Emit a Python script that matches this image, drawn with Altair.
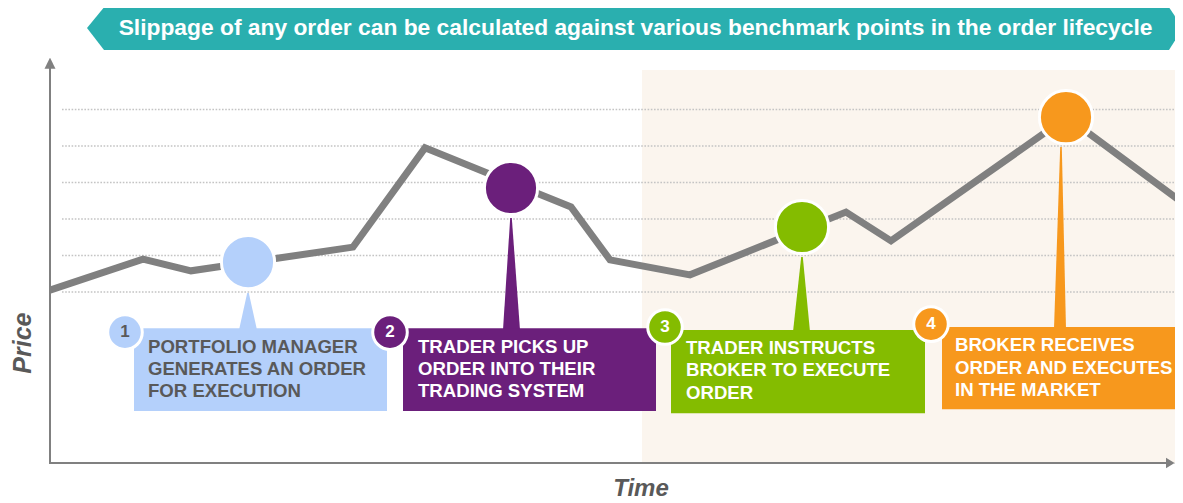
import altair as alt
import pandas as pd

# ---------------- data (x = time units, y = price units) ----------------
line_t = [0.0, 9.3, 14.1, 30.3, 37.5, 52.1, 56.0, 64.0, 79.6, 84.1, 101.7, 113.3]
line_p = [5.05, 5.90, 5.58, 6.23, 8.95, 7.33, 5.88, 5.47, 7.19, 6.40, 9.79, 7.44]

steps = ["1", "2", "3", "4"]
step_t = [19.8, 46.1, 75.2, 101.6]
step_p = [5.82, 7.85, 6.78, 9.79]
step_colors = ["#B4D0FB", "#6B1F7B", "#84BC00", "#F7981D"]
step_text_colors = ["#595959", "#FFFFFF", "#FFFFFF", "#FFFFFF"]
step_lines = [
    ["PORTFOLIO MANAGER", "GENERATES AN ORDER", "FOR EXECUTION"],
    ["TRADER PICKS UP", "ORDER INTO THEIR", "TRADING SYSTEM"],
    ["TRADER INSTRUCTS", "BROKER TO EXECUTE", "ORDER"],
    ["BROKER RECEIVES", "ORDER AND EXECUTES", "IN THE MARKET"],
]
grid_levels = [5, 6, 7, 8, 9, 10]
title_text = "Slippage of any order can be calculated against various benchmark points in the order lifecycle"
x_title = "Time"
y_title = "Price"

# ---------------- annotation layout (same units) ----------------
box_t1 = [8.4, 35.3, 62.1, 89.2]
box_t2 = [33.7, 60.6, 87.5, 114.5]
box_ptop = [4.01, 4.01, 3.96, 4.04]
box_pbot = [1.74, 1.74, 1.68, 1.79]
text_t = [9.8, 36.8, 63.6, 90.5]
text_p = [[3.49, 2.89, 2.29], [3.49, 2.89, 2.29], [3.47, 2.86, 2.23], [3.55, 2.92, 2.32]]
badge_t = [7.5, 34.0, 61.5, 88.1]
badge_p = [3.90, 3.90, 4.04, 4.12]
ptr_apex_t = [19.8, 46.1, 75.2, 101.1]
ptr_apex_p = [4.97, 7.03, 5.96, 8.97]
ptr_base_t = [19.8, 46.15, 75.15, 101.0]
ptr_half = [0.9, 0.85, 0.85, 0.6]
phase_t = [59.2, 114.5]
phase_p = [0.315, 11.08]
axis_p0 = 0.315
axis_t0 = 0.0

FONT = "Liberation Sans"
GRAY = "#808080"
TXT = "#595959"

W, H = 1167, 495
xs = alt.Scale(domain=[-4.2, 112.5], nice=False, zero=False)
ys = alt.Scale(domain=[-0.781, 12.781], nice=False, zero=False)


def X(f):
    return alt.X(f, type="quantitative", scale=xs, axis=None, stack=None)


def Y(f):
    return alt.Y(f, type="quantitative", scale=ys, axis=None, stack=None)


# phase shading
phase_df = pd.DataFrame({"t1": [phase_t[0]], "t2": [phase_t[1]], "p1": [phase_p[0]], "p2": [phase_p[1]]})
phase = alt.Chart(phase_df).mark_rect(color="#FBF5EE").encode(
    x=X("t1"), x2="t2", y=Y("p1"), y2="p2")

# gridlines
grid_df = pd.DataFrame({"p": grid_levels, "t1": 1.2, "t2": 113.3})
grid = alt.Chart(grid_df).mark_rule(color="#C4C4C4", strokeWidth=1.6, strokeDash=[1.6, 1.6]).encode(
    y=Y("p"), x=X("t1"), x2="t2")

# axes
yaxis_df = pd.DataFrame({"t": [axis_t0], "p1": [axis_p0], "p2": [11.2]})
yaxis = alt.Chart(yaxis_df).mark_rule(color=GRAY, strokeWidth=2).encode(x=X("t"), y=Y("p1"), y2="p2")
xaxis_df = pd.DataFrame({"p": [axis_p0], "t1": [axis_t0 - 0.1], "t2": [111.7]})
xaxis = alt.Chart(xaxis_df).mark_rule(color=GRAY, strokeWidth=2).encode(y=Y("p"), x=X("t1"), x2="t2")

yarrow_df = pd.DataFrame({"p": [11.41, 11.12], "tl": [-0.02, -0.55], "tr": [0.02, 0.55]})
yarrow = alt.Chart(yarrow_df).mark_area(orient="horizontal", color=GRAY).encode(
    y=Y("p"), x=X("tl"), x2="tr")
xarrow_df = pd.DataFrame({"t": [111.6, 112.5], "pl": [0.46, 0.31], "ph": [0.17, 0.32]})
xarrow = alt.Chart(xarrow_df).mark_area(orient="vertical", color=GRAY).encode(
    x=X("t"), y=Y("pl"), y2="ph")

# price line
line_df = pd.DataFrame({"t": line_t, "p": line_p})
price = alt.Chart(line_df).mark_line(color=GRAY, strokeWidth=7, strokeJoin="miter").encode(
    x=X("t"), y=Y("p"))

# pointers
ptr_rows = []
for i, s in enumerate(steps):
    ptr_rows.append({"id": s, "p": ptr_apex_p[i], "tl": ptr_apex_t[i] - 0.08, "tr": ptr_apex_t[i] + 0.08, "c": step_colors[i]})
    ptr_rows.append({"id": s, "p": box_ptop[i] - 0.05, "tl": ptr_base_t[i] - ptr_half[i], "tr": ptr_base_t[i] + ptr_half[i], "c": step_colors[i]})
ptr_df = pd.DataFrame(ptr_rows)
pointers = alt.Chart(ptr_df).mark_area(orient="horizontal").encode(
    y=Y("p"), x=X("tl"), x2="tr", detail="id:N", color=alt.Color("c:N", scale=None))

# benchmark circles
step_df = pd.DataFrame({"id": steps, "t": step_t, "p": step_p, "c": step_colors})
circles = alt.Chart(step_df).mark_point(shape="circle", filled=True, size=2827, stroke="white",
                                        strokeWidth=3, opacity=1).encode(
    x=X("t"), y=Y("p"), fill=alt.Fill("c:N", scale=None))

# boxes
box_df = pd.DataFrame({"id": steps, "t1": box_t1, "t2": box_t2, "p1": box_pbot, "p2": box_ptop, "c": step_colors})
boxes = alt.Chart(box_df).mark_rect().encode(
    x=X("t1"), x2="t2", y=Y("p1"), y2="p2", color=alt.Color("c:N", scale=None))

# badges
badge_df = pd.DataFrame({"id": steps, "t": badge_t, "p": badge_p, "c": step_colors, "tc": step_text_colors})
badges = alt.Chart(badge_df).mark_point(shape="circle", filled=True, size=1195, stroke="white",
                                        strokeWidth=3, opacity=1).encode(
    x=X("t"), y=Y("p"), fill=alt.Fill("c:N", scale=None))
badge_txt = alt.Chart(badge_df).mark_text(font=FONT, fontSize=17, fontWeight="bold", align="center",
                                          baseline="middle").encode(
    x=X("t"), y=Y("p"), text="id:N", color=alt.Color("tc:N", scale=None))

# box text
txt_rows = []
for i, s in enumerate(steps):
    for j, ln in enumerate(step_lines[i]):
        txt_rows.append({"t": text_t[i], "p": text_p[i][j], "label": ln, "tc": step_text_colors[i]})
txt_df = pd.DataFrame(txt_rows)
box_txt = alt.Chart(txt_df).mark_text(font=FONT, fontSize=18.6, fontWeight="bold", align="left",
                                      baseline="middle").encode(
    x=X("t"), y=Y("p"), text="label:N", color=alt.Color("tc:N", scale=None))

# banner
banner_df = pd.DataFrame({"p": [12.80, 12.23, 11.63], "tl": [5.4, 3.7, 5.4], "tr": [111.9, 113.3, 111.9]})
banner = alt.Chart(banner_df).mark_area(orient="horizontal", color="#2AAFAF").encode(
    y=Y("p"), x=X("tl"), x2="tr")
banner_txt_df = pd.DataFrame({"t": [58.55], "p": [12.23], "label": [title_text]})
banner_txt = alt.Chart(banner_txt_df).mark_text(font=FONT, fontSize=22.8, fontWeight="bold", color="white",
                                                align="center", baseline="middle").encode(
    x=X("t"), y=Y("p"), text="label:N")

# axis titles
at_df = pd.DataFrame({"t": [59.1, -2.7], "p": [-0.40, 3.60], "label": [x_title, y_title]})
xt = alt.Chart(at_df.iloc[[0]]).mark_text(font=FONT, fontSize=24, fontWeight="bold", fontStyle="italic",
                                           color=TXT, align="center", baseline="middle").encode(
    x=X("t"), y=Y("p"), text="label:N")
yt = alt.Chart(at_df.iloc[[1]]).mark_text(font=FONT, fontSize=25, fontWeight="bold", fontStyle="italic",
                                           color=TXT, align="center", baseline="middle", angle=270).encode(
    x=X("t"), y=Y("p"), text="label:N")

chart = alt.layer(
    phase, grid, yaxis, xaxis, yarrow, xarrow, price, pointers, circles, boxes, badges, badge_txt,
    box_txt, banner, banner_txt, xt, yt
).properties(
    width=W, height=H, padding=0, autosize=alt.AutoSizeParams(type="none"), background="white"
).configure_view(stroke=None)

chart.save("out.html", embed_options={"renderer": "svg", "actions": False})
